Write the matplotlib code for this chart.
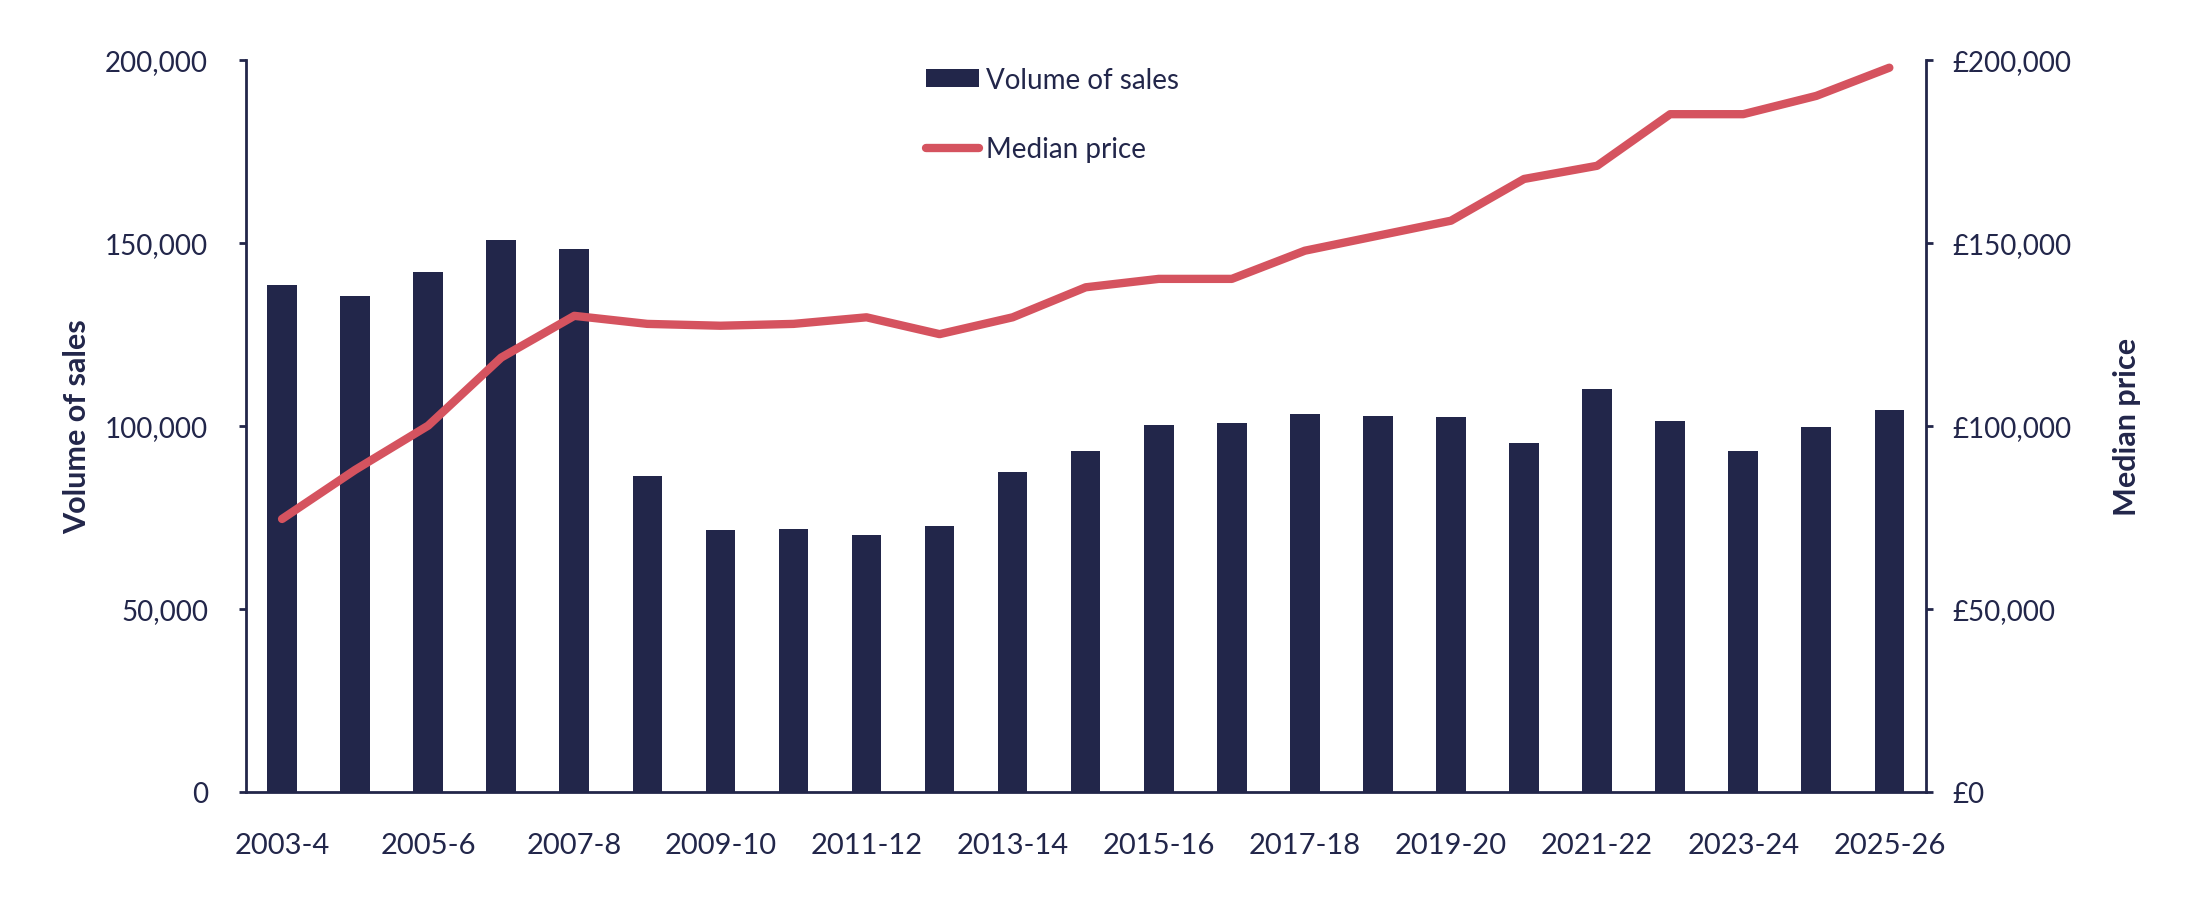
import numpy as np
import matplotlib
matplotlib.use("Agg")
import matplotlib.pyplot as plt
from matplotlib.ticker import FuncFormatter

plt.rcParams["font.family"] = ["Lato", "DejaVu Sans"]

years = ["2003-4", "2004-5", "2005-6", "2006-7", "2007-8", "2008-9", "2009-10",
         "2010-11", "2011-12", "2012-13", "2013-14", "2014-15", "2015-16",
         "2016-17", "2017-18", "2018-19", "2019-20", "2020-21", "2021-22",
         "2022-23", "2023-24", "2024-25", "2025-26"]
volume = [138600, 135400, 142200, 150700, 148300, 86300, 71500, 71800, 70300,
          72700, 87400, 93200, 100200, 100700, 103200, 102600, 102400, 95300,
          110100, 101300, 93200, 99700, 104400]
median_price = [74600, 88000, 100100, 118700, 130100, 127900, 127400, 127900,
                129700, 125100, 129700, 137900, 140200, 140200, 147900, 152000,
                156100, 167500, 171100, 185200, 185200, 190200, 197900]

navy = "#22264a"
red = "#d5535f"

fig = plt.figure(figsize=(22.02, 9.04), dpi=100)
ax = fig.add_axes([0.1115, 0.1228, 0.8746 - 0.1115, 0.9325 - 0.1228])
ax2 = ax.twinx()

x = np.arange(len(years))
bars = ax.bar(x, volume, width=0.405, color=navy, label="Volume of sales", zorder=2)
line, = ax2.plot(x, median_price, color=red, lw=6, solid_capstyle="round",
                 solid_joinstyle="round", label="Median price", zorder=3)

ax.set_xlim(-0.5, len(years) - 0.5)
ax.set_ylim(0, 200000)
ax2.set_ylim(0, 200000)
ax.set_yticks(np.arange(0, 200001, 50000))
ax2.set_yticks(np.arange(0, 200001, 50000))
ax.yaxis.set_major_formatter(FuncFormatter(lambda v, p: f"{int(v):,}"))
ax2.yaxis.set_major_formatter(FuncFormatter(lambda v, p: f"\u00a3{int(v):,}"))

ax.set_xticks(x[::2])
ax.set_xticklabels(years[::2])

for a in (ax, ax2):
    a.spines["top"].set_visible(False)
    for s in a.spines.values():
        s.set_color(navy)
        s.set_linewidth(2)
ax.spines["right"].set_visible(False)
ax2.spines["left"].set_visible(False)
ax2.spines["bottom"].set_visible(False)

ax.tick_params(axis="x", length=0, pad=29, labelsize=21, labelcolor=navy)
ax.tick_params(axis="y", length=5, width=2, color=navy, pad=22, labelsize=20,
               labelcolor=navy)
ax2.tick_params(axis="y", length=5, width=2, color=navy, pad=14, labelsize=20,
                labelcolor=navy)

ax.set_ylabel("Volume of sales", fontsize=22, fontweight="bold", color=navy, labelpad=10)
ax2.set_ylabel("Median price", fontsize=22, fontweight="bold", color=navy, labelpad=30)

fig.legend([bars, line], ["Volume of sales", "Median price"],
           loc="upper left", bbox_to_anchor=(926 / 2202, 1 - 68 / 904),
           frameon=False, handlelength=1.9, handleheight=0.6,
           handletextpad=0.25, labelspacing=1.55, borderpad=0, borderaxespad=0,
           labelcolor=navy, prop={"size": 20})

fig.savefig("out.png", dpi=100)
